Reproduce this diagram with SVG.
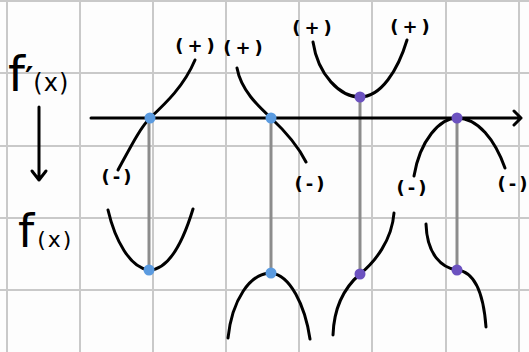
<svg xmlns="http://www.w3.org/2000/svg" width="529" height="352" viewBox="0 0 529 352">
<defs>
<style>
.grid line{stroke:#c9c9c9;stroke-width:2}
.curve{fill:none;stroke:#000;stroke-width:3;stroke-linecap:round;stroke-linejoin:round}
.conn{stroke:#8c8c8c;stroke-width:3}
.blue{fill:#5b9be0}
.purple{fill:#6c52c0}
.lbl{font-family:"DejaVu Sans",sans-serif;font-size:18px;font-weight:bold;letter-spacing:4px;text-anchor:middle;fill:#000}
.neg{letter-spacing:3px}
.big{font-family:"DejaVu Sans",sans-serif;fill:#000}
</style>
</defs>
<rect width="529" height="352" fill="#fdfdfd"/>
<g class="grid">
<line x1="7" y1="0" x2="7" y2="352"/>
<line x1="80" y1="0" x2="80" y2="352"/>
<line x1="153" y1="0" x2="153" y2="352"/>
<line x1="226" y1="0" x2="226" y2="352"/>
<line x1="299" y1="0" x2="299" y2="352"/>
<line x1="372" y1="0" x2="372" y2="352"/>
<line x1="446" y1="0" x2="446" y2="352"/>
<line x1="519" y1="0" x2="519" y2="352"/>
<line x1="0" y1="1" x2="529" y2="1"/>
<line x1="0" y1="73" x2="529" y2="73"/>
<line x1="0" y1="146" x2="529" y2="146"/>
<line x1="0" y1="218" x2="529" y2="218"/>
<line x1="0" y1="290" x2="529" y2="290"/>
</g>
<g id="connectors">
<line class="conn" x1="149" y1="118" x2="149" y2="270"/>
<line class="conn" x1="271" y1="118" x2="271" y2="273"/>
<line class="conn" x1="360" y1="97" x2="360" y2="274"/>
<line class="conn" x1="457" y1="118" x2="457" y2="270"/>
</g>
<g id="axis">
<path class="curve" d="M91,118 H521 M514,111 L521,118 L514,125"/>
</g>
<g id="labels-left">
<text class="big" x="8" y="91" font-size="48">f<tspan font-size="32" font-weight="bold" dy="-2">′</tspan><tspan font-size="24" dy="2" letter-spacing="1">(x)</tspan></text>
<path class="curve" d="M39,107 V180 M32,171 L39,180 L46,171"/>
<text class="big" x="18" y="247" font-size="46">f<tspan font-size="22" letter-spacing="2" dx="3">(x)</tspan></text>
</g>
<g id="fprime1">
<path class="curve" d="M118,170 C130,148 140,128 150,118 C166,103 184,86 195,60"/>
<text class="lbl" x="197" y="52">(+)</text>
<text class="lbl neg" x="118" y="183">(-)</text>
</g>
<g id="fprime2">
<path class="curve" d="M237,68 C241,90 258,106 271,118 C285,131 297,144 306,162"/>
<text class="lbl" x="245" y="54">(+)</text>
<text class="lbl neg" x="311" y="190">(-)</text>
</g>
<g id="fprime3">
<path class="curve" d="M313,42 C318,75 340,97 360,97 C381,97 398,70 407,40"/>
<text class="lbl" x="314" y="34">(+)</text>
<text class="lbl" x="412" y="33">(+)</text>
</g>
<g id="fprime4">
<path class="curve" d="M414,176 C420,140 440,118 457,118 C478,118 495,140 505,168"/>
<text class="lbl neg" x="413" y="194">(-)</text>
<text class="lbl neg" x="514" y="190">(-)</text>
</g>
<g id="f1">
<path class="curve" d="M108,210 C115,240 130,268 149,270 C168,270 182,245 193,209"/>
</g>
<g id="f2">
<path class="curve" d="M228,338 C232,300 250,273 271,273 C290,275 305,305 310,339"/>
</g>
<g id="f3">
<path class="curve" d="M333,335 C334,305 345,287 360,274 C375,262 392,240 394,213"/>
</g>
<g id="f4">
<path class="curve" d="M426,224 C427,255 442,268 457,270 C478,272 484,300 486,327"/>
</g>
<g id="points">
<circle class="blue" cx="150" cy="118" r="5.5"/>
<circle class="blue" cx="271" cy="118" r="5.5"/>
<circle class="purple" cx="360" cy="97" r="5.5"/>
<circle class="purple" cx="457" cy="118" r="5.5"/>
<circle class="blue" cx="149" cy="270" r="5.5"/>
<circle class="blue" cx="271" cy="273" r="5.5"/>
<circle class="purple" cx="360" cy="274" r="5.5"/>
<circle class="purple" cx="457" cy="270" r="5.5"/>
</g>
</svg>
